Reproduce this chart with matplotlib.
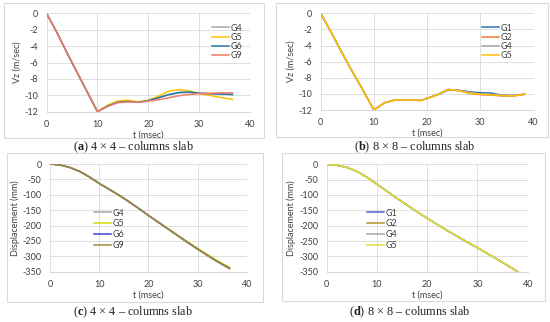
import numpy as np
import matplotlib
matplotlib.use('Agg')
import matplotlib.pyplot as plt
from matplotlib.patches import Rectangle

# ---- data ----
# (a) 4x4 columns slab, velocity
ta = [0, 2, 4, 6, 8, 10, 12, 14, 16, 18, 20, 22, 24, 26, 28, 30, 32, 34, 36.5]
va_g4 = [0, -2.3, -4.8, -7.2, -9.6, -12.0, -11.3, -10.85, -10.75, -10.85, -10.65, -10.3, -9.95, -9.7, -9.65, -9.75, -9.8, -9.85, -9.9]
va_g5 = [0, -2.3, -4.8, -7.2, -9.6, -12.0, -11.2, -10.7, -10.6, -10.8, -10.6, -10.1, -9.5, -9.3, -9.45, -9.8, -10.0, -10.25, -10.5]
va_g6 = [0, -2.3, -4.8, -7.2, -9.6, -12.0, -11.3, -10.85, -10.75, -10.85, -10.65, -10.3, -9.9, -9.65, -9.6, -9.75, -9.8, -9.85, -9.9]
va_g9 = [0, -2.3, -4.8, -7.2, -9.6, -12.0, -11.35, -10.9, -10.8, -10.85, -10.7, -10.55, -10.3, -10.05, -9.9, -9.8, -9.75, -9.7, -9.7]

# (b) 8x8 columns slab, velocity
tb = [0, 2, 4, 6, 8, 10, 12, 14, 16, 18, 19, 20, 22, 23, 24, 26, 28, 30, 32, 34, 36, 38.3]
vb_g1 = [0, -2.4, -4.9, -7.3, -9.6, -12.0, -11.1, -10.75, -10.75, -10.8, -10.8, -10.55, -10.1, -9.8, -9.5, -9.55, -9.75, -9.85, -9.9, -10.15, -10.2, -10.05]
vb_g2 = [0, -2.4, -4.9, -7.3, -9.6, -12.0, -11.1, -10.75, -10.75, -10.8, -10.8, -10.55, -10.1, -9.75, -9.45, -9.6, -9.95, -10.1, -10.15, -10.25, -10.3, -10.05]
vb_g4 = [0, -2.4, -4.9, -7.3, -9.6, -12.0, -11.1, -10.75, -10.75, -10.8, -10.8, -10.55, -10.1, -9.75, -9.45, -9.6, -9.85, -10.0, -10.1, -10.2, -10.25, -10.05]
vb_g5 = [0, -2.4, -4.9, -7.3, -9.6, -12.0, -11.1, -10.75, -10.75, -10.8, -10.8, -10.55, -10.1, -9.75, -9.45, -9.6, -9.9, -10.05, -10.1, -10.2, -10.25, -10.05]

# (c) 4x4 columns slab, displacement
tc = [0, 2, 4, 6, 8, 10, 12, 14, 16, 18, 20, 22, 24, 26, 28, 30, 32, 34, 36.5]
dc_g4 = [0, -3, -11, -24, -42, -63, -82, -101, -122, -144, -167, -189, -211, -233, -255, -276, -296, -316, -338]
dc_g5 = [0, -3, -11, -24, -42, -63, -82, -101, -122, -144, -167, -189, -211, -232, -253, -274, -294, -314, -336]
dc_g6 = [0, -3, -11, -24, -42, -63, -82, -101, -122, -144, -167, -189, -211, -233, -255, -276, -297, -317, -339]
dc_g9 = [0, -3, -11, -24, -42, -63, -82, -101, -122, -144, -167, -189, -211, -233, -255, -277, -297, -317, -340]

# (d) 8x8 columns slab, displacement
td = [0, 2, 4, 6, 8, 10, 12, 14, 16, 18, 20, 22, 24, 26, 28, 30, 32, 34, 36, 38]
dd_g1 = [0, -3, -10, -23, -42, -65, -88, -111, -133, -155, -176, -196, -216, -235, -254, -272, -291, -310, -330, -350]
dd_g2 = dd_g1
dd_g4 = dd_g1
dd_g5 = dd_g1

plt.rcParams['font.family'] = ['Lato', 'DejaVu Sans']
plt.rcParams['axes.unicode_minus'] = False
plt.rcParams['mathtext.fontset'] = 'custom'
plt.rcParams['mathtext.rm'] = 'Liberation Serif'
plt.rcParams['mathtext.bf'] = 'Liberation Serif:bold'

fig = plt.figure(figsize=(5.5, 3.22), dpi=100)
W, H = 550.0, 322.0

def fx(px): return px / W
def fy(py): return 1 - py / H

# chart area borders (Excel style)
for (x0, y0, x1, y1) in [(4, 3, 264, 138), (276, 3, 548, 137), (7, 153, 263, 302), (282, 153, 545, 301)]:
    fig.add_artist(Rectangle((fx(x0), fy(y1)), fx(x1 - x0), (y1 - y0) / H,
                             transform=fig.transFigure, fill=False, ec='#d9d9d9', lw=0.8))

tick_c = '#404040'
fs = 6.5

def style(ax, ylim, yticks, ylabel):
    ax.set_xlim(0, 40)
    ax.set_ylim(*ylim)
    ax.set_xticks([0, 10, 20, 30, 40])
    ax.set_yticks(yticks)
    ax.grid(True, color='#d9d9d9', lw=0.6)
    ax.set_axisbelow(True)
    for s in ['top', 'right', 'left']:
        ax.spines[s].set_visible(False)
    ax.spines['bottom'].set_color('#d9d9d9')
    ax.tick_params(length=0, labelsize=fs, colors=tick_c, pad=6)
    ax.set_xlabel('t (msec)', fontsize=fs, color=tick_c, labelpad=1)
    ax.set_ylabel(ylabel, fontsize=fs, color=tick_c, labelpad=2)

lw = 1.1
leg_kw = dict(loc='upper left', bbox_transform=fig.transFigure, frameon=False, fontsize=fs,
              handlelength=1.9, handletextpad=0.25, borderpad=0, labelcolor=tick_c)

# (a)
ax = fig.add_axes([fx(46.5), fy(111.7), fx(203.8), 98.4 / H])
ax.plot(ta, va_g4, color='#A5A5A5', lw=lw, label='G4')
ax.plot(ta, va_g5, color='#FFC000', lw=lw, label='G5')
ax.plot(ta, va_g6, color='#1F7AA8', lw=lw, label='G6')
ax.plot(ta, va_g9, color='#F27B6B', lw=lw, label='G9')
style(ax, (-12, 0), range(-12, 1, 2), 'Vz (m/sec)')
ax.legend(bbox_to_anchor=(fx(207), fy(19)), labelspacing=0.03, **leg_kw)

# (b)
ax = fig.add_axes([fx(320.7), fy(110), fx(212.8), 96.7 / H])
ax.plot(tb, vb_g1, color='#2E75B6', lw=lw, label='G1')
ax.plot(tb, vb_g2, color='#ED7D31', lw=lw, label='G2')
ax.plot(tb, vb_g4, color='#A5A5A5', lw=lw, label='G4')
ax.plot(tb, vb_g5, color='#FFC000', lw=lw, label='G5')
style(ax, (-12, 0), range(-12, 1, 2), 'Vz (m/sec)')
ax.legend(bbox_to_anchor=(fx(477), fy(19)), labelspacing=0.03, **leg_kw)

# (c)
ax = fig.add_axes([fx(50), fy(271.7), fx(196.7), 107.7 / H])
ax.plot(tc, dc_g4, color='#A5A5A5', lw=lw, label='G4')
ax.plot(tc, dc_g5, color='#D8D800', lw=lw, label='G5')
ax.plot(tc, dc_g6, color='#4040D0', lw=lw, label='G6')
ax.plot(tc, dc_g9, color='#A08C3C', lw=lw, label='G9')
style(ax, (-350, 0), range(-350, 1, 50), 'Displacement (mm)')
ax.legend(bbox_to_anchor=(fx(89), fy(204)), labelspacing=0.2, **leg_kw)

# (d)
ax = fig.add_axes([fx(326.7), fy(271.7), fx(201), 107.4 / H])
ax.plot(td, dd_g1, color='#5060D0', lw=lw, label='G1')
ax.plot(td, dd_g2, color='#B8902C', lw=lw, label='G2')
ax.plot(td, dd_g4, color='#A5A5A5', lw=lw, label='G4')
ax.plot(td, dd_g5, color='#E0E030', lw=lw, label='G5')
style(ax, (-350, 0), range(-350, 1, 50), 'Displacement (mm)')
ax.legend(bbox_to_anchor=(fx(362), fy(204)), labelspacing=0.2, **leg_kw)

# captions
cap_kw = dict(ha='center', va='center', fontsize=8.8, family='Liberation Serif', color='#222222')
fig.text(fx(133), fy(147), r'($\mathbf{a}$) 4 × 4 – columns slab', **cap_kw)
fig.text(fx(415), fy(147), r'($\mathbf{b}$) 8 × 8 – columns slab', **cap_kw)
fig.text(fx(133), fy(312.5), r'($\mathbf{c}$) 4 × 4 – columns slab', **cap_kw)
fig.text(fx(410), fy(312), r'($\mathbf{d}$) 8 × 8 – columns slab', **cap_kw)

fig.savefig('out.png', dpi=100)
